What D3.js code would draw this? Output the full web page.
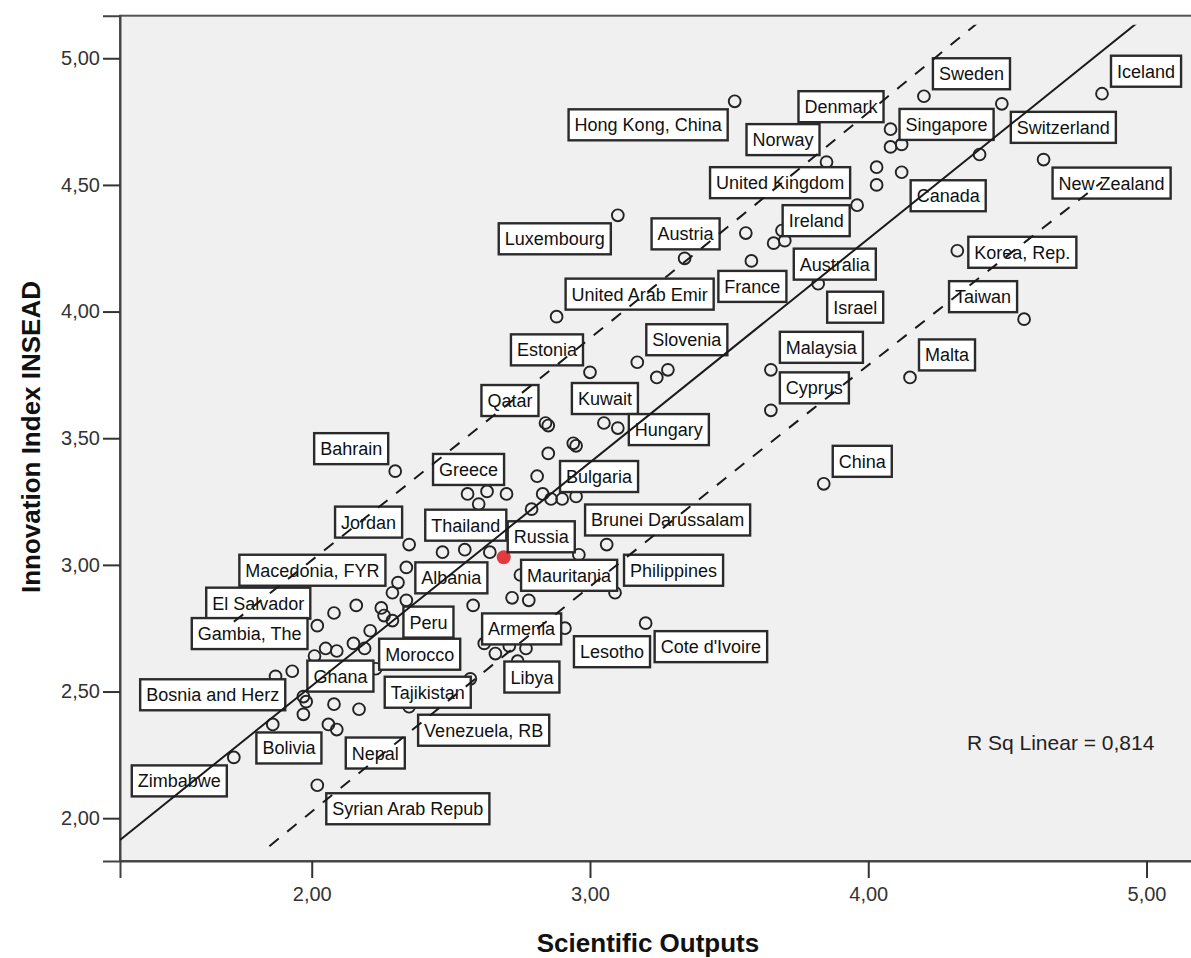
<!DOCTYPE html>
<html>
<head>
<meta charset="utf-8">
<script src="https://cdn.jsdelivr.net/npm/d3@7"></script>
<style>
  html, body { margin: 0; padding: 0; background: #ffffff; }
  svg { display: block; }
</style>
</head>
<body>
<svg id="chart" width="1191" height="958"></svg>
<script>
// Country names (empty string = point drawn without a label)
const countries = [
  "Hong Kong, China", "Sweden", "Switzerland", "Iceland", "Denmark", "Singapore", "", "", "", "Canada",
  "United Kingdom", "", "New Zealand", "Korea, Rep.", "Norway", "Luxembourg", "", "", "Ireland", "Australia",
  "Austria", "France", "Israel", "Taiwan", "United Arab Emir", "Slovenia", "", "", "Malaysia", "Cyprus",
  "Malta", "Estonia", "Qatar", "", "Kuwait", "Hungary", "", "", "", "China",
  "", "Bahrain", "Greece", "", "", "", "", "Bulgaria", "", "Brunei Darussalam",
  "", "", "", "", "Jordan", "", "Thailand", "", "Russia", "",
  "Philippines", "Mauritania", "", "Armenia", "", "", "Macedonia, FYR", "Albania", "", "",
  "", "", "Peru", "El Salvador", "Morocco", "", "", "", "", "Gambia, The",
  "Tajikistan", "Bosnia and Herz", "", "", "Ghana", "", "", "", "", "Venezuela, RB",
  "", "Bolivia", "Nepal", "Zimbabwe", "Syrian Arab Repub", "Lesotho", "Cote d'Ivoire", "", "Libya", "",
  "", ""
];

// Scientific Outputs (x)
const scientificOutputs = [
  3.52, 4.20, 4.48, 4.84, 4.08, 4.08, 4.12, 4.03, 4.03, 4.12,
  3.96, 4.40, 4.63, 4.32, 3.85, 3.10, 3.56, 3.69, 3.66, 3.70,
  3.34, 3.58, 3.82, 4.56, 2.88, 3.17, 3.28, 3.24, 3.65, 3.65,
  4.15, 3.00, 2.84, 2.85, 3.05, 3.10, 2.94, 2.95, 2.85, 3.84,
  2.81, 2.30, 2.56, 2.63, 2.60, 2.70, 2.83, 2.86, 2.90, 2.95,
  2.79, 3.06, 2.96, 2.43, 2.35, 2.47, 2.55, 2.64, 2.69, 2.75,
  3.09, 2.72, 2.78, 2.58, 2.34, 2.31, 2.29, 2.34, 2.16, 2.08,
  2.25, 2.26, 2.29, 2.02, 2.21, 2.15, 2.19, 2.09, 2.05, 2.01,
  2.23, 1.93, 1.87, 2.57, 1.97, 1.98, 1.97, 2.08, 2.17, 2.35,
  1.86, 2.06, 2.09, 1.72, 2.02, 2.91, 3.20, 2.62, 2.66, 2.71,
  2.77, 2.74
];

// Innovation Index INSEAD (y)
const innovationIndex = [
  4.83, 4.85, 4.82, 4.86, 4.72, 4.65, 4.66, 4.57, 4.50, 4.55,
  4.42, 4.62, 4.60, 4.24, 4.59, 4.38, 4.31, 4.32, 4.27, 4.28,
  4.21, 4.20, 4.11, 3.97, 3.98, 3.80, 3.77, 3.74, 3.77, 3.61,
  3.74, 3.76, 3.56, 3.55, 3.56, 3.54, 3.48, 3.47, 3.44, 3.32,
  3.35, 3.37, 3.28, 3.29, 3.24, 3.28, 3.28, 3.26, 3.26, 3.27,
  3.22, 3.08, 3.04, 3.17, 3.08, 3.05, 3.06, 3.05, 3.03, 2.96,
  2.89, 2.87, 2.86, 2.84, 2.99, 2.93, 2.89, 2.86, 2.84, 2.81,
  2.83, 2.80, 2.78, 2.76, 2.74, 2.69, 2.67, 2.66, 2.67, 2.64,
  2.59, 2.58, 2.56, 2.55, 2.48, 2.46, 2.41, 2.45, 2.43, 2.44,
  2.37, 2.37, 2.35, 2.24, 2.13, 2.75, 2.77, 2.69, 2.65, 2.68,
  2.67, 2.62
];

const highlighted = ["Russia"];

const xTicks = [2, 3, 4, 5];
const yTicks = [2.0, 2.5, 3.0, 3.5, 4.0, 4.5, 5.0];
const xDomain = [1.311, 5.167];
const yDomain = [1.831, 5.168];

// Linear fit and 95% individual prediction band
const fitIntercept = 0.757;
const fitSlope = 0.8825;
const bandBase = 0.49;
const bandSpread = 0.03;
const rSquared = 0.814;

// Where each label box sits relative to its point
const labelPlacement = {
  "Hong Kong, China": "SW", "Sweden": "NE", "Switzerland": "SE", "Iceland": "NE",
  "Denmark": "NW", "Singapore": "NE", "Canada": "SE", "United Kingdom": "NW",
  "New Zealand": "SE", "Korea, Rep.": "E", "Norway": "NW", "Luxembourg": "SW",
  "Ireland": "NE", "Australia": "SE", "Austria": "N", "France": "S", "Israel": "SE",
  "Taiwan": "NW", "United Arab Emir": "NE", "Slovenia": "NE", "Malaysia": "NE",
  "Cyprus": "NE", "Malta": "NE", "Estonia": "NW", "Qatar": "NW", "Kuwait": "N",
  "Hungary": "E", "China": "NE", "Bahrain": "NW", "Greece": "N", "Bulgaria": "NE",
  "Brunei Darussalam": "SE", "Jordan": "NW", "Thailand": "N", "Russia": "NEi",
  "Philippines": "NE", "Mauritania": "NE", "Armenia": "SE", "Macedonia, FYR": "NW",
  "Albania": "NE", "Peru": "E", "El Salvador": "NW", "Morocco": "SE", "Gambia, The": "NW",
  "Tajikistan": "SE", "Bosnia and Herz": "SW", "Ghana": "NEi", "Venezuela, RB": "SE",
  "Bolivia": "SW", "Nepal": "SE", "Zimbabwe": "SW", "Syrian Arab Repub": "SE",
  "Lesotho": "SE", "Cote d'Ivoire": "SE", "Libya": "SE"
};
const placementOffsets = {
  NE:  { anchor: "start",  dx: 9,  dy: -38 },
  NEi: { anchor: "start",  dx: 4,  dy: -36 },
  NW:  { anchor: "end",    dx: -7, dy: -38 },
  SE:  { anchor: "start",  dx: 9,  dy: 8 },
  SW:  { anchor: "end",    dx: -7, dy: 8 },
  N:   { anchor: "middle", dx: 1,  dy: -40 },
  S:   { anchor: "middle", dx: 1,  dy: 10 },
  E:   { anchor: "start",  dx: 11, dy: -14 }
};

const points = countries.map((name, i) => ({
  name, x: scientificOutputs[i], y: innovationIndex[i]
}));

const svg = d3.select("#chart");
const frame = { left: 120, right: 1193, top: 15.7, bottom: 861 };

const x = d3.scaleLinear().domain(xDomain).range([frame.left, frame.right]);
const y = d3.scaleLinear().domain(yDomain).range([frame.bottom, frame.top]);

const locale = d3.formatLocale({ decimal: ",", thousands: ".", grouping: [3], currency: ["", ""] });
const fmt = locale.format(".2f");

// plot background
svg.append("rect")
  .attr("x", frame.left).attr("y", frame.top)
  .attr("width", frame.right - frame.left).attr("height", frame.bottom - frame.top)
  .attr("fill", "#f0f0f0")
  .attr("stroke", "#555").attr("stroke-width", 2);

// axes
const xAxis = svg.append("g")
  .attr("transform", `translate(0,${frame.bottom})`)
  .call(d3.axisBottom(x).tickValues(xTicks).tickSize(17).tickPadding(9).tickFormat(fmt));
const yAxis = svg.append("g")
  .attr("transform", `translate(${frame.left},0)`)
  .call(d3.axisLeft(y).tickValues(yTicks).tickSize(17).tickPadding(3).tickFormat(fmt));
[xAxis, yAxis].forEach(a => {
  a.select(".domain").attr("stroke", "#444").attr("stroke-width", 2);
  a.selectAll(".tick line").attr("stroke", "#333").attr("stroke-width", 2);
  a.selectAll(".tick text")
    .attr("fill", "#333")
    .style("font-family", "'Liberation Sans', Arial, sans-serif")
    .style("font-size", "20px");
});

// axis titles
svg.append("text")
  .attr("x", 648).attr("y", 952)
  .attr("text-anchor", "middle")
  .style("font-family", "'Liberation Sans', Arial, sans-serif")
  .style("font-weight", "bold").style("font-size", "26px")
  .attr("fill", "#111")
  .text("Scientific Outputs");
svg.append("text")
  .attr("transform", "translate(40,437) rotate(-90)")
  .attr("text-anchor", "middle")
  .style("font-family", "'Liberation Sans', Arial, sans-serif")
  .style("font-weight", "bold").style("font-size", "26px")
  .attr("fill", "#111")
  .text("Innovation Index INSEAD");

// points
const plain = points.filter(d => !highlighted.includes(d.name));
const marked = points.filter(d => highlighted.includes(d.name));
svg.append("g").selectAll("circle").data(plain).join("circle")
  .attr("cx", d => x(d.x)).attr("cy", d => y(d.y)).attr("r", 5.9)
  .attr("fill", "none").attr("stroke", "#222").attr("stroke-width", 1.9);
svg.append("g").selectAll("circle").data(marked).join("circle")
  .attr("cx", d => x(d.x)).attr("cy", d => y(d.y)).attr("r", 7)
  .attr("fill", "#e23a3f");

// labels
const labelG = svg.append("g")
  .style("font-family", "'Liberation Sans', Arial, sans-serif")
  .style("font-size", "18px");
points.filter(d => d.name && labelPlacement[d.name]).forEach(d => {
  const off = placementOffsets[labelPlacement[d.name]];
  const px = x(d.x), py = y(d.y);
  const g = labelG.append("g");
  const rect = g.append("rect");
  const t = g.append("text").attr("fill", "#111").text(d.name);
  const w = t.node().getComputedTextLength();
  const bw = w + 12, bh = 31;
  let left = px + off.dx;
  if (off.anchor === "end") left -= bw;
  if (off.anchor === "middle") left -= bw / 2;
  const top = py + off.dy;
  rect.attr("x", left).attr("y", top).attr("width", bw).attr("height", bh)
    .attr("fill", "#ffffff").attr("stroke", "#2b2b2b").attr("stroke-width", 2.4);
  t.attr("x", left + 6).attr("y", top + 22);
});

// fit line and prediction band, clipped to the data region
svg.append("clipPath").attr("id", "dataClip")
  .append("rect")
  .attr("x", frame.left).attr("y", y(5.132))
  .attr("width", frame.right - frame.left).attr("height", y(1.874) - y(5.132));

const lines = svg.append("g").attr("clip-path", "url(#dataClip)");
const fit = v => fitIntercept + fitSlope * v;
const xMean = d3.mean(scientificOutputs);
const band = v => bandBase * Math.sqrt(1 + bandSpread * (v - xMean) ** 2);
const line = d3.line().x(d => x(d[0])).y(d => y(d[1]));

lines.append("path")
  .attr("d", line(xDomain.map(v => [v, fit(v)])))
  .attr("fill", "none").attr("stroke", "#1a1a1a").attr("stroke-width", 2);

const [xmin, xmax] = d3.extent(scientificOutputs);
const samples = d3.range(0, 61).map(i => xmin + (xmax - xmin) * i / 60);
[1, -1].forEach(sign => {
  lines.append("path")
    .attr("d", line(samples.map(v => [v, fit(v) + sign * band(v)])))
    .attr("fill", "none").attr("stroke", "#1a1a1a").attr("stroke-width", 2)
    .attr("stroke-dasharray", "12,11");
});

// R squared annotation
svg.append("text")
  .attr("x", 967).attr("y", 750)
  .style("font-family", "'Liberation Sans', Arial, sans-serif")
  .style("font-size", "21px")
  .attr("fill", "#222")
  .text("R Sq Linear = " + locale.format(".3f")(rSquared));
</script>
</body>
</html>
